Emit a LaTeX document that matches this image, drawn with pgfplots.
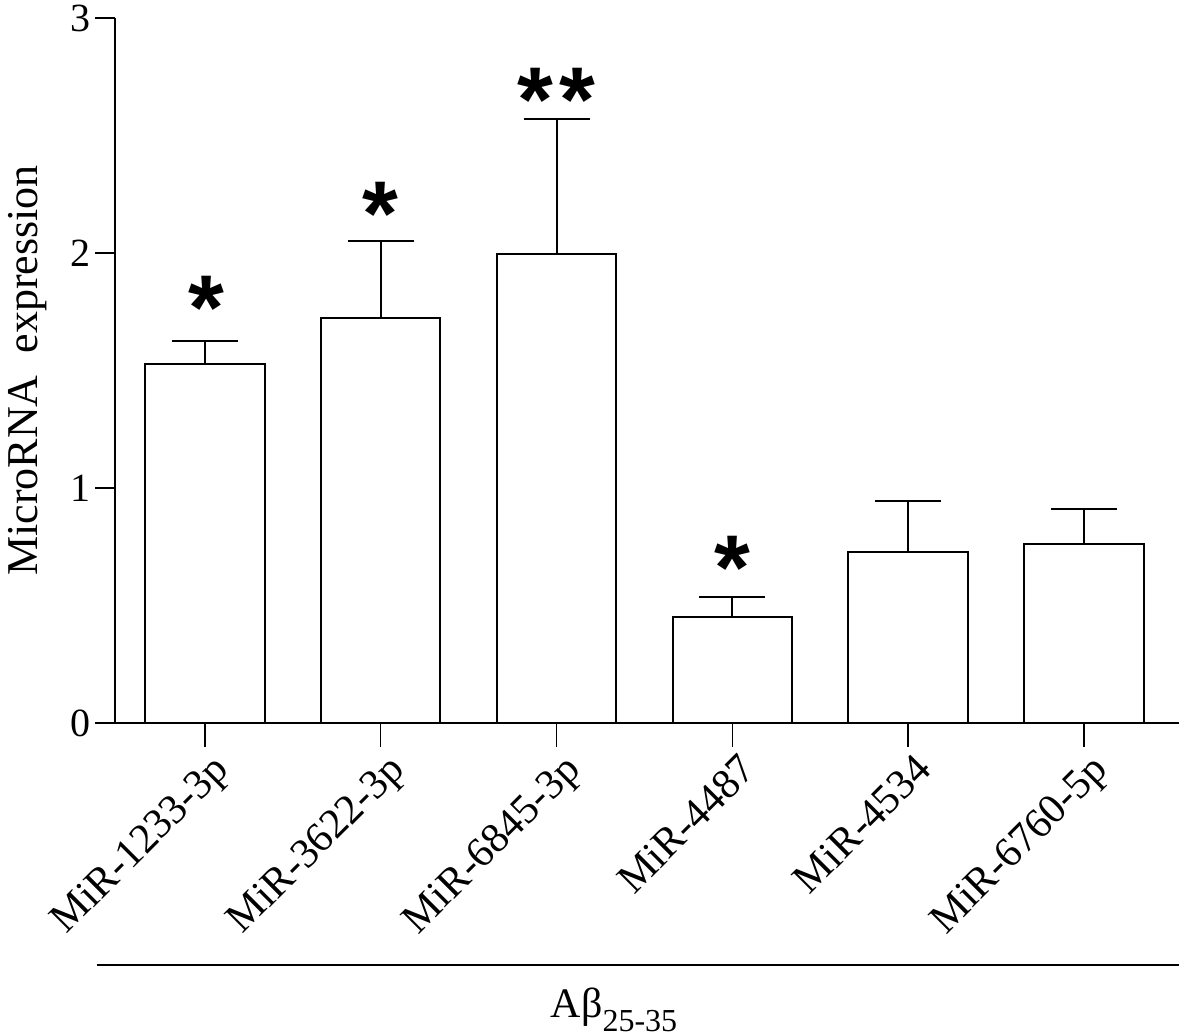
\documentclass[border=0pt]{standalone}
\usepackage{fontspec}
\setmainfont{Liberation Serif}
\newfontfamily\astfont{Liberation Sans}
\usepackage{pgfplots}
\pgfplotsset{compat=1.18}
\pgfplotstableread{
x y e
0 1.528 0.098
1 1.723 0.328
2 1.996 0.574
3 0.451 0.085
4 0.728 0.217
5 0.762 0.149
}\datatable
\begin{document}
\begin{tikzpicture}
\begin{axis}[
  scale only axis, width=532pt, height=352.5pt,
  xmin=-0.511, xmax=5.54, ymin=0, ymax=3,
  axis lines*=left,
  axis line style={line width=0.8pt},
  ybar,
  ytick={0,1,2,3}, xtick={0,1,2,3,4,5},
  xticklabels={MiR-1233-3p, MiR-3622-3p, MiR-6845-3p, MiR-4487, MiR-4534, MiR-6760-5p},
  tick align=outside,
  major tick length=10pt,
  xtick style={/pgfplots/major tick length=12pt},
  tick style={line width=0.8pt, black},
  minor tick num=0,
  /pgf/number format/assume math mode=true,
  yticklabel style={font=\fontsize{20}{24}\selectfont, inner sep=2pt},
  xticklabel style={font=\fontsize{21}{25}\selectfont, rotate=45, anchor=north east, inner sep=2pt, xshift=1pt, yshift=-3pt},
  ylabel={MicroRNA\ \ expression},
  ylabel style={font=\fontsize{22}{26}\selectfont, at={(axis description cs:-0.082,0.5)}, anchor=center},
  clip=false,
]
\addplot[fill=white, draw=black, line width=1pt, bar width=0.68,
  error bars/.cd, y dir=plus, y explicit,
  error bar style={line width=1pt},
  error mark options={rotate=90, mark size=16.5pt, line width=1pt}]
  table[x=x, y=y, y error=e] {\datatable};
\node[font=\astfont\bfseries\fontsize{46}{46}\selectfont, anchor=base] at (axis cs:0.01,1.633) {*};
\node[font=\astfont\bfseries\fontsize{46}{46}\selectfont, anchor=base] at (axis cs:1,2.030) {*};
\node[font=\astfont\bfseries\fontsize{46}{46}\selectfont, anchor=base] at (axis cs:2,2.515) {*\kern3pt*};
\node[font=\astfont\bfseries\fontsize{46}{46}\selectfont, anchor=base] at (axis cs:3,0.527) {*};
\draw[line width=1pt] (rel axis cs:-0.017,-0.343) -- (rel axis cs:1.0,-0.343);
\node[font=\fontsize{21}{24}\selectfont, anchor=base] at (rel axis cs:0.469,-0.418) {Aβ\raisebox{-0.33em}{\fontsize{16}{18}\selectfont 25-35}};
\coordinate (BL) at (rel axis cs:-0.1081,-0.4440);
\coordinate (TR) at (rel axis cs:1.0019,1.0255);
\end{axis}
\pgfresetboundingbox
\path[use as bounding box] (BL) rectangle (TR);
\end{tikzpicture}
\end{document}
